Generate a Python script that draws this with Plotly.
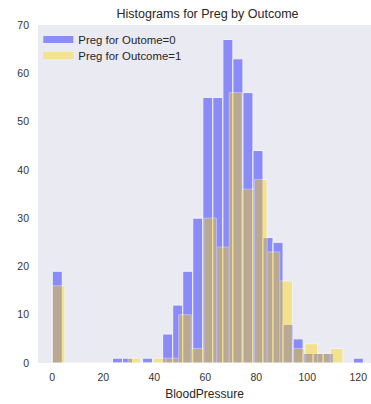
import numpy as np
import plotly.graph_objects as go

# Histogram counts of BloodPressure per outcome (automatic binning over each group's range)
bp_min_0, bp_max_0, nbins_0 = 0, 122, 31
counts_0 = [19, 0, 0, 0, 0, 0, 1, 1, 0, 1, 0, 6, 12, 19, 30, 55,
            55, 67, 63, 56, 44, 26, 25, 8, 5, 2, 2, 2, 0, 0, 1]

bp_min_1, bp_max_1, nbins_1 = 0, 114, 23
counts_1 = [16, 0, 0, 0, 0, 0, 1, 0, 1, 1, 10, 3, 30, 24, 56, 36,
            38, 23, 17, 3, 4, 2, 3]

labels = ["Preg for Outome=0", "Preg for Outcome=1"]
colors = ["#0000FF", "#FFD700"]
x_ticks = [0, 20, 40, 60, 80, 100, 120]
y_ticks = [0, 10, 20, 30, 40, 50, 60, 70]

FONT = "Liberation Sans, Arial, sans-serif"


def bin_geometry(lo, hi, n):
    edges = np.linspace(lo, hi, n + 1)
    centers = (edges[:-1] + edges[1:]) / 2
    widths = np.diff(edges)
    return centers, widths


fig = go.Figure()

for (lo, hi, n, counts, color) in [
    (bp_min_0, bp_max_0, nbins_0, counts_0, colors[0]),
    (bp_min_1, bp_max_1, nbins_1, counts_1, colors[1]),
]:
    centers, widths = bin_geometry(lo, hi, n)
    fig.add_trace(go.Bar(
        x=centers, y=counts, width=widths,
        marker=dict(color=color, line=dict(color="white", width=1)),
        opacity=0.4, showlegend=False, hoverinfo="skip",
    ))

# legend entries drawn as thick swatches, one legend box per row
legend_names = ["legend", "legend2"]
for label, color, lg in zip(labels, colors, legend_names):
    fig.add_trace(go.Scatter(
        x=[None], y=[None], mode="lines", name=label, legend=lg,
        line=dict(color=color, width=7), opacity=0.4,
    ))

legend_style = dict(
    x=0.001, xanchor="left", yanchor="top",
    bgcolor="rgba(0,0,0,0)", itemwidth=30,
    font=dict(size=11.4, family=FONT, color="#262626"),
)

fig.update_layout(
    width=371, height=404,
    margin=dict(l=38, r=0, t=25, b=41),
    paper_bgcolor="white",
    plot_bgcolor="#EAEAF2",
    barmode="overlay",
    font=dict(family=FONT, color="#262626"),
    title=dict(
        text="Histograms for Preg by Outcome",
        x=207.5 / 371, xref="container", xanchor="center",
        y=1 - 14 / 404, yref="container", yanchor="middle",
        font=dict(size=12.5, color="#262626", family=FONT),
    ),
    legend=dict(y=1.0, **legend_style),
    legend2=dict(y=1 - 16 / 338, **legend_style),
    xaxis=dict(
        range=[-5.6, 125.0], tickvals=x_ticks, showgrid=False, zeroline=False,
        showline=False, ticks="", ticklabelstandoff=6,
        tickfont=dict(size=10.5, color="#333333", family=FONT),
        title=dict(text="BloodPressure", standoff=8,
                   font=dict(size=12, color="#262626", family=FONT)),
    ),
    yaxis=dict(
        range=[0, 70], tickvals=y_ticks, showgrid=False, zeroline=False,
        showline=False, ticks="", ticklabelstandoff=8,
        tickfont=dict(size=10.5, color="#333333", family=FONT),
    ),
)

fig.write_html("out.html")
